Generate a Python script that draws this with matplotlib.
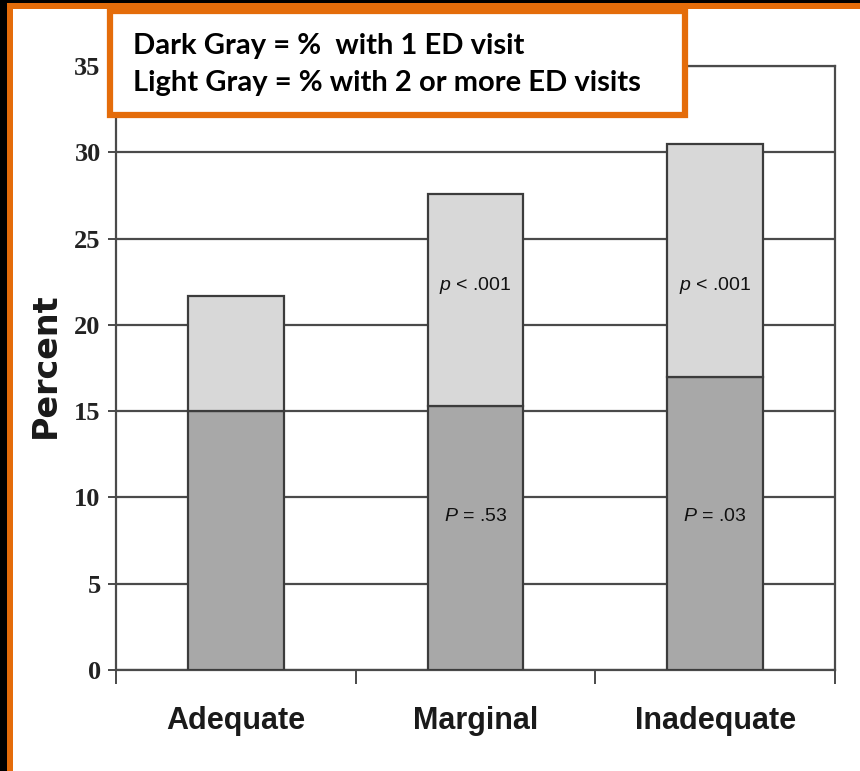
import matplotlib
matplotlib.use("Agg")
import matplotlib.pyplot as plt
from matplotlib.patches import Rectangle
from matplotlib import font_manager
import numpy as np

categories = ['Adequate', 'Marginal', 'Inadequate']
one_visit = [15.0, 15.3, 17.0]          # dark gray, % with 1 ED visit
two_plus = [6.7, 12.3, 13.5]            # light gray, % with 2+ ED visits
top_notes = ['', 'p < .001', 'p < .001']
bottom_notes = ['', 'P = .53', 'P = .03']
yticks = [0, 5, 10, 15, 20, 25, 30, 35]
legend_lines = ['Dark Gray = %  with 1 ED visit',
                'Light Gray = % with 2 or more ED visits']

W, H = 860, 771
orange = '#E46C0A'
dark = '#a8a8a8'
light = '#d8d8d8'
edge = '#3c3c3c'

plt.rcParams['mathtext.fontset'] = 'custom'
plt.rcParams['mathtext.it'] = 'Liberation Sans:italic'
plt.rcParams['mathtext.rm'] = 'Liberation Sans'

# narrow bold font for the category labels if there is one
font_names = {f.name for f in font_manager.fontManager.ttflist}
if 'Liberation Sans Narrow' in font_names:
    cat_font, cat_size = 'Liberation Sans Narrow', 27
else:
    cat_font, cat_size = 'Liberation Sans', 22

fig = plt.figure(figsize=(W / 100, H / 100), dpi=100)
ax = fig.add_axes([116 / W, 1 - 670 / H, (835 - 116) / W, (670 - 66) / H])

x = np.arange(len(categories))
ax.bar(x, one_visit, width=0.4, color=dark, edgecolor=edge, linewidth=1.6, zorder=3)
ax.bar(x, two_plus, width=0.4, bottom=one_visit, color=light, edgecolor=edge,
       linewidth=1.6, zorder=3)

ax.set_xlim(-0.5, 2.5)
ax.set_ylim(0, 35)
ax.set_yticks(yticks)
ax.set_yticklabels([str(v) for v in yticks], family='Liberation Serif',
                   fontweight='bold', fontsize=19, color='#222222')
ax.yaxis.grid(True, color='#4a4a4a', linewidth=1.6, zorder=1)
ax.tick_params(axis='y', length=6, width=1.4, color='#4a4a4a', pad=5)

ax.set_xticks(x)
ax.set_xticklabels(categories, family=cat_font, fontweight='bold',
                   fontsize=cat_size, color='#1a1a1a')
ax.tick_params(axis='x', which='major', length=0, pad=26)
ax.set_xticks([-0.5, 0.5, 1.5, 2.5], minor=True)
ax.tick_params(axis='x', which='minor', length=10, width=1.4, color='#4a4a4a')

for s in ax.spines.values():
    s.set_color('#4a4a4a')
    s.set_linewidth(1.6)

for i in range(len(categories)):
    if top_notes[i]:
        p, rest = top_notes[i].split(' ', 1)
        ax.text(x[i], 22.3, r'$\it{' + p + '}$ ' + rest, ha='center', va='center',
                family='Liberation Sans', fontsize=14, color='#111111', zorder=4)
    if bottom_notes[i]:
        p, rest = bottom_notes[i].split(' ', 1)
        ax.text(x[i], 8.9, r'$\it{' + p + '}$ ' + rest, ha='center', va='center',
                family='Liberation Sans', fontsize=14, color='#111111', zorder=4)

fig.text(45 / W, 1 - 365 / H, 'Percent', rotation=90, ha='center', va='center',
         family='DejaVu Sans', fontweight='bold', fontsize=24, color='#1a1a1a')

# legend box drawn as text in an orange frame
fig.add_artist(Rectangle((110 / W, 1 - 115 / H), (685 - 110) / W, (115 - 11) / H,
                         transform=fig.transFigure, facecolor='white',
                         edgecolor=orange, linewidth=4.5, zorder=10))
fig.text(133 / W, 1 - 54 / H, legend_lines[0], family='Lato', fontweight='bold',
         fontsize=21, color='black', zorder=11)
fig.text(133 / W, 1 - 91 / H, legend_lines[1], family='Lato', fontweight='bold',
         fontsize=21, color='black', zorder=11)

# outer frame: black strips and orange border
fig.add_artist(Rectangle((0, 0), 7 / W, 1, transform=fig.transFigure,
                         facecolor='black', edgecolor='none', zorder=12))
fig.add_artist(Rectangle((0, 1 - 3 / H), 1, 3 / H, transform=fig.transFigure,
                         facecolor='black', edgecolor='none', zorder=12))
fig.add_artist(Rectangle((7 / W, 0), 6 / W, 1 - 3 / H, transform=fig.transFigure,
                         facecolor=orange, edgecolor='none', zorder=13))
fig.add_artist(Rectangle((7 / W, 1 - 9 / H), 1, 6 / H, transform=fig.transFigure,
                         facecolor=orange, edgecolor='none', zorder=13))

fig.savefig('out.png', dpi=100)
